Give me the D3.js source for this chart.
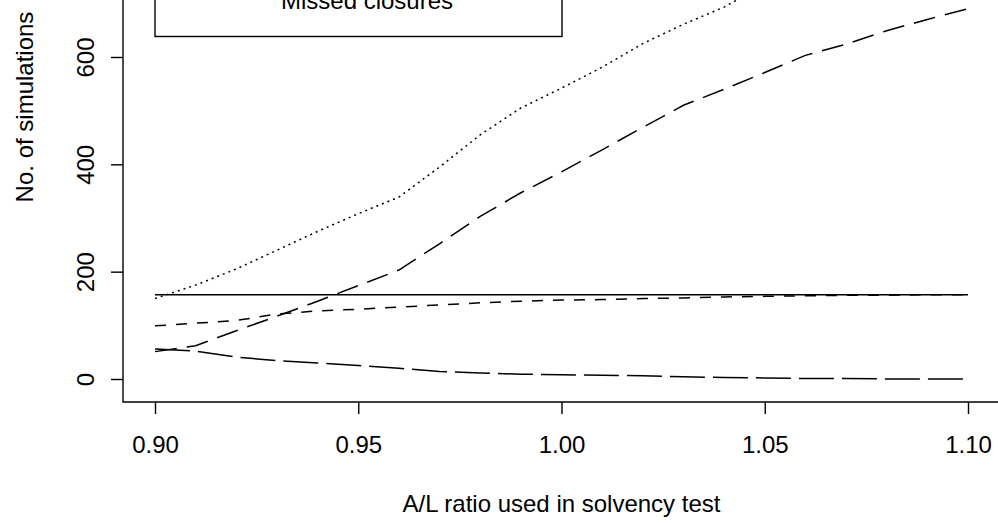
<!DOCTYPE html>
<html>
<head>
<meta charset="utf-8">
<script src="https://cdn.jsdelivr.net/npm/d3@7"></script>
<style>
  html, body { margin: 0; padding: 0; background: #fff; }
  svg { display: block; }
  text { font-family: "Liberation Sans", Arial, Helvetica, sans-serif; fill: #000; }
</style>
</head>
<body>
<svg id="chart" width="998" height="523"></svg>
<script>
// A/L ratio thresholds tested
const ratio = [0.90, 0.91, 0.92, 0.93, 0.94, 0.95, 0.96, 0.97, 0.98, 0.99, 1.00,
               1.01, 1.02, 1.03, 1.04, 1.05, 1.06, 1.07, 1.08, 1.09, 1.10];

// Simulation counts per threshold, one array per outcome
const baseline      = [157, 157, 157, 157, 157, 157, 157, 157, 157, 157, 157,
                       157, 157, 157, 157, 157, 157, 157, 157, 157, 157];
const dottedSeries  = [150, 175, 205, 240, 275, 308, 339, 395, 455, 505, 542,
                       581, 625, 661, 693, 735, 770, 800, 825, 845, 865];
const risingSeries  = [51, 62, 90, 117, 145, 174, 203, 252, 303, 347, 386,
                       427, 469, 510, 540, 571, 603, 624, 649, 670, 690];
const shortSeries   = [99, 104, 109, 121, 127, 130, 134, 138, 142, 145, 147,
                       148, 150, 151, 153, 154, 155, 156, 156, 157, 157];
const missedSeries  = [56, 52, 41, 34, 30, 25, 20, 14, 11, 9, 8,
                       7, 6, 4, 3, 2, 1, 1, 0, 0, 0];

const xTicks = [0.90, 0.95, 1.00, 1.05, 1.10];
const yTicks = [0, 200, 400, 600];

const legendLabel = "Missed closures";
const xTitle = "A/L ratio used in solvency test";
const yTitle = "No. of simulations";

const svg = d3.select("#chart");
const W = 998, H = 523;

// plot frame (left and bottom box edges)
const frameLeft = 123, frameBottom = 402;

const x = d3.scaleLinear().domain([0.90, 1.10]).range([155, 968]);
const y = d3.scaleLinear().domain([0, 600]).range([379, 57]);

const fontSize = 24;
const tickLen = 12;

// L-shaped box
svg.append("path")
  .attr("d", `M${frameLeft},0 V${frameBottom} H${W}`)
  .attr("fill", "none").attr("stroke", "#000").attr("stroke-width", 1.4);

// x axis
const xAxis = d3.axisBottom(x).tickValues(xTicks).tickFormat(d3.format(".2f"))
  .tickSize(tickLen);
const gx = svg.append("g").attr("transform", `translate(0,${frameBottom})`).call(xAxis);
gx.select(".domain").remove();
gx.selectAll(".tick line").attr("stroke", "#000").attr("stroke-width", 1.4);
gx.selectAll(".tick text").attr("font-size", fontSize).attr("font-family", null)
  .attr("dy", null).attr("y", 51);

// y axis with rotated labels
const yAxis = d3.axisLeft(y).tickValues(yTicks).tickSize(tickLen).tickFormat(d3.format("d"));
const gy = svg.append("g").attr("transform", `translate(${frameLeft},0)`).call(yAxis);
gy.select(".domain").remove();
gy.selectAll(".tick line").attr("stroke", "#000").attr("stroke-width", 1.4);
gy.selectAll(".tick text")
  .attr("font-size", fontSize).attr("font-family", null)
  .attr("x", null).attr("dy", null)
  .attr("text-anchor", "middle")
  .attr("transform", `translate(${94 - frameLeft},0) rotate(-90)`);

// axis titles
svg.append("text").attr("x", (x(0.90) + x(1.10)) / 2).attr("y", 512)
  .attr("text-anchor", "middle").attr("font-size", fontSize).text(xTitle);
svg.append("text").attr("transform", `translate(33,107) rotate(-90)`)
  .attr("text-anchor", "middle").attr("font-size", fontSize).text(yTitle);

// series lines
const line = d3.line().x((d, i) => x(ratio[i])).y(d => y(d));
const series = [
  { values: baseline,     dash: null },
  { values: dottedSeries, dash: "2,4" },
  { values: risingSeries, dash: "22,10" },
  { values: shortSeries,  dash: "11,10" },
  { values: missedSeries, dash: "35,8" }
];
svg.append("g").selectAll("path").data(series).join("path")
  .attr("d", d => line(d.values))
  .attr("fill", "none")
  .attr("stroke", "#000")
  .attr("stroke-width", 1.5)
  .attr("stroke-dasharray", d => d.dash);

// legend box (upper part lies above the drawing area)
svg.append("rect").attr("x", 155).attr("y", -60).attr("width", 407).attr("height", 96.5)
  .attr("fill", "#fff").attr("stroke", "#000").attr("stroke-width", 1.4);
svg.append("text").attr("x", 281).attr("y", 9).attr("font-size", fontSize).text(legendLabel);
</script>
</body>
</html>
